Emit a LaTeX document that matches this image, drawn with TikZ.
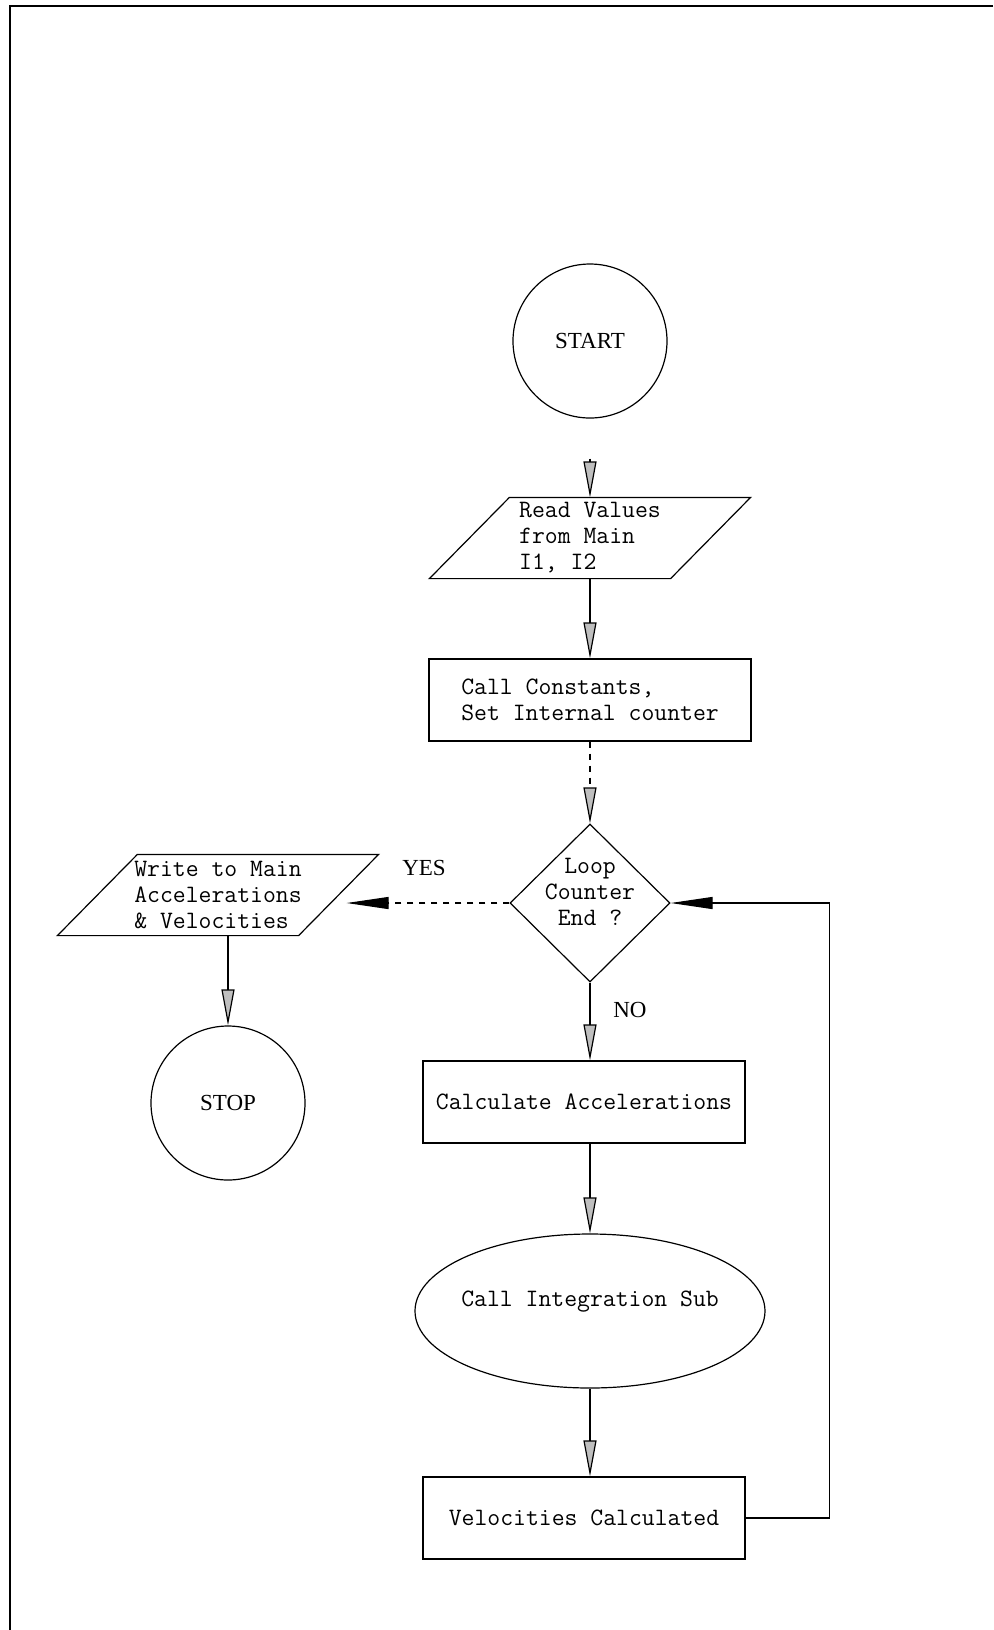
\documentclass[tikz,border=0pt]{standalone}
\usepackage{fontspec}
\setmainfont{Liberation Serif}
\usetikzlibrary{shapes.geometric,arrows.meta,positioning}
\newcommand{\slantframe}[1]{\draw ([xshift=20pt]#1.north west) -- ([xshift=20pt]#1.north east) -- ([xshift=-20pt]#1.south east) -- ([xshift=-20pt]#1.south west) -- cycle;}
\newcommand{\liftup}[1]{\raisebox{4.5pt}[\height][\depth]{#1}}

\begin{document}
\begin{tikzpicture}[semithick,
  startstop/.style = {draw, circle, minimum size=77pt, font=\fontsize{11.5}{13}\selectfont},
  mono/.style = {font=\ttfamily\fontsize{12.5}{13}\selectfont},
  inout/.style = {mono, rectangle, minimum width=120pt, minimum height=40pt, inner sep=0pt, align=left},
  process/.style = {mono, draw, rectangle, minimum width=161pt, minimum height=41pt, align=left},
  decision/.style = {mono, draw, diamond, inner sep=-2pt, minimum width=80pt, minimum height=79pt},
  subcall/.style = {mono, draw, ellipse, inner xsep=-8pt, minimum width=175pt, minimum height=77pt},
  flow/.style = {-{Triangle[length=18pt, width=6.5pt, fill=gray!50]}},
  hit/.style = {-{Triangle[length=21pt, width=6pt]}}]
  \useasboundingbox (0,0) rectangle (496.5pt,-815pt);
  \draw[line width=1.2pt] (496.5pt,-3pt) -- (5pt,-3pt) -- (5pt,-815pt);
  \node[startstop] (start) at (295pt,-170.5pt) {START};
  \node[inout] (read) [below of=start, node distance=98.5pt] {Read Values\\from Main\\I1, I2};
  \node[process] (const) [below of=read, node distance=81pt] {Call Constants,\\Set Internal counter};
  \node[decision] (loop) [below of=const, node distance=101.5pt] {\liftup{\begin{tabular}{@{}c@{}}Loop\\Counter\\End ?\end{tabular}}};
  \node[process] (calc) [below of=loop, node distance=99.5pt, xshift=-3pt] {Calculate Accelerations};
  \node[subcall] (integ) [below of=calc, node distance=104.5pt, xshift=3pt] {\liftup{Call Integration Sub}};
  \node[process] (vel) [below of=integ, node distance=103.5pt, xshift=-3pt] {Velocities Calculated};
  \node[inout] (write) [left of=loop, node distance=186pt, yshift=4pt] {Write to Main\\Accelerations\\\& Velocities};
  \node[startstop] (stop) [below of=write, node distance=104pt, xshift=5pt] {STOP};
  \slantframe{read}
  \slantframe{write}
  \draw[flow, shorten <=20pt] (start) -- (read);
  \draw[flow] (read) -- (const);
  \draw[flow, dashed] (const) -- (loop);
  \draw[flow] (loop) -- node[pos=0.35, right=8pt, font=\fontsize{11.5}{13}\selectfont] {NO} (loop |- calc.north);
  \draw[flow] (calc.south -| integ) -- (integ);
  \draw[flow] (integ) -- (integ |- vel.north);
  \draw[hit] (vel.east) -- ++(42pt,0) |- (loop.east);
  \draw[hit, dashed, shorten >=4pt] (loop.west) -- node[above=10pt, font=\fontsize{11.5}{13}\selectfont] {YES} (write.east |- loop.west);
  \draw[flow] (stop.north |- write.south) -- (stop.north);
\end{tikzpicture}
\end{document}
